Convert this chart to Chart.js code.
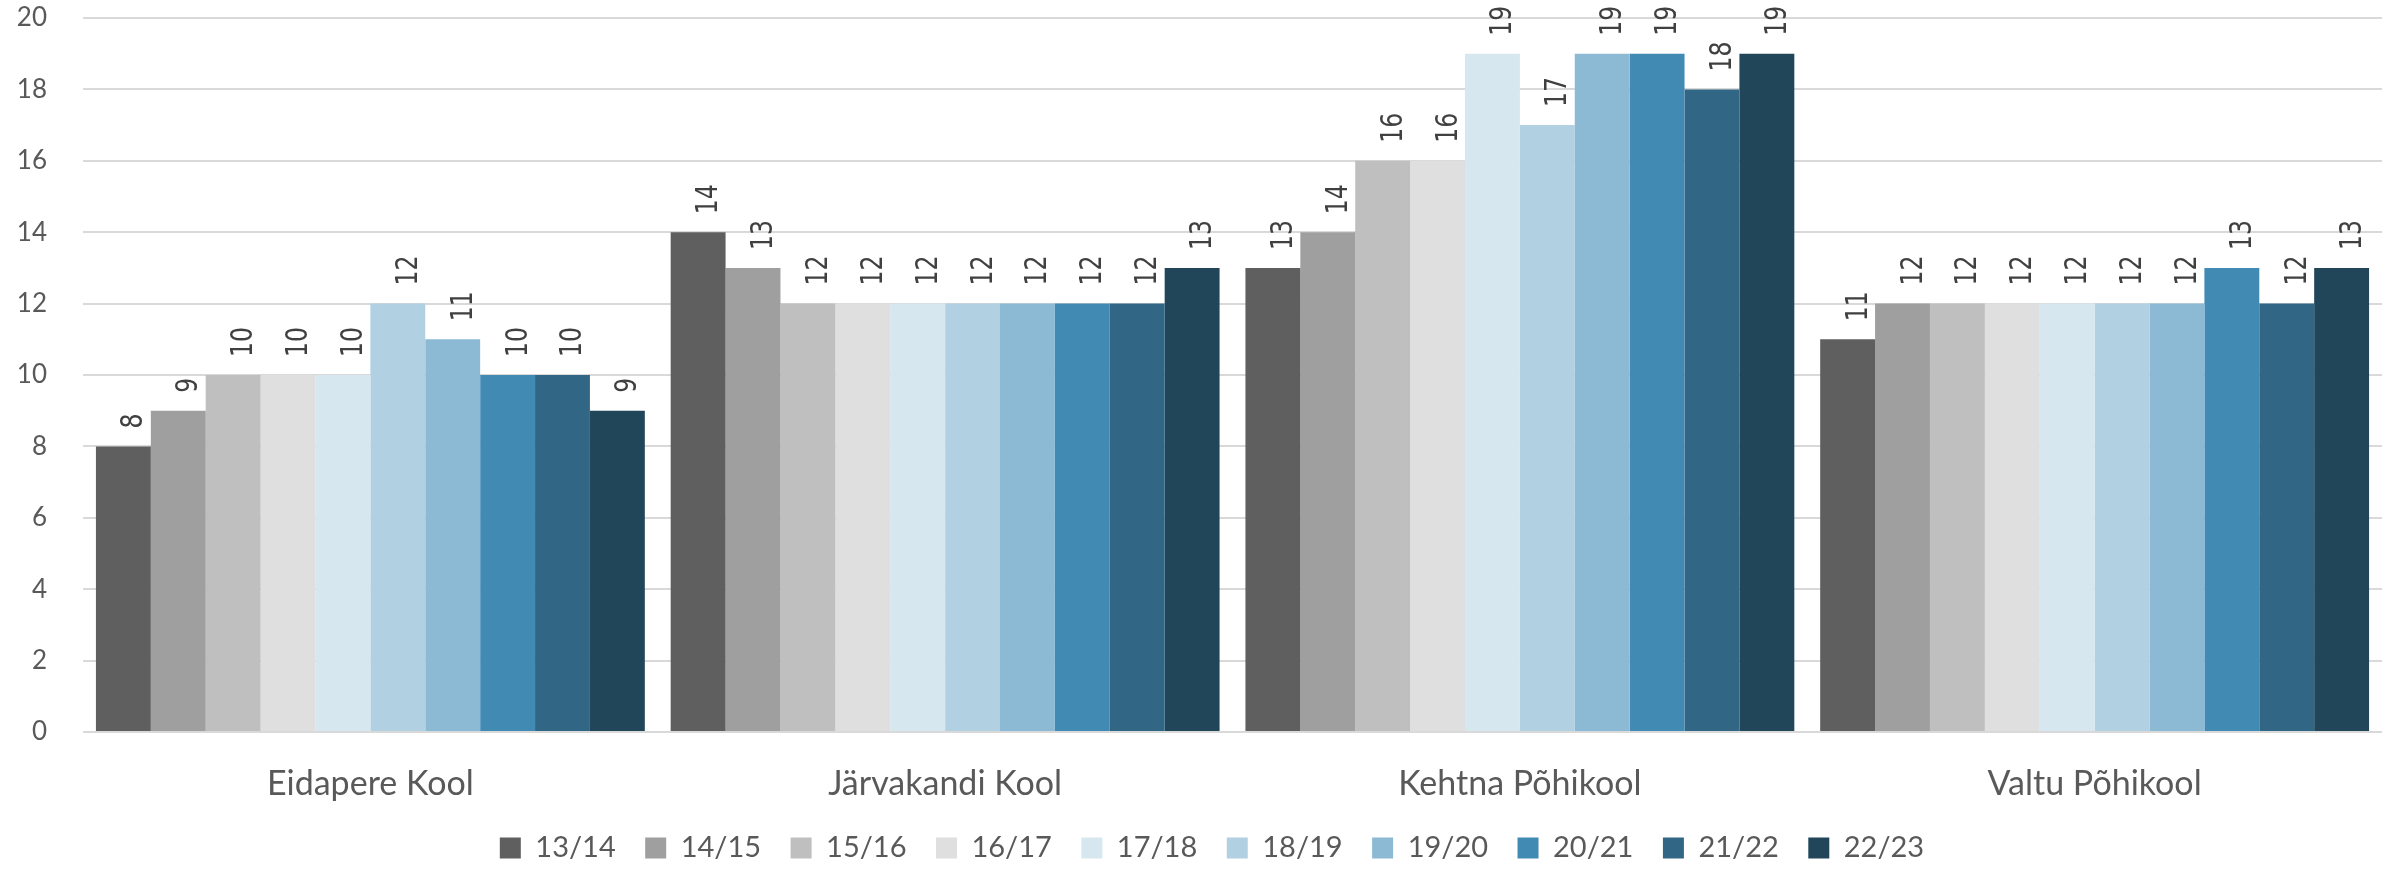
<!DOCTYPE html>
<html>
<head>
<meta charset="utf-8">
<script src="https://cdn.jsdelivr.net/npm/chart.js@4/dist/chart.umd.min.js"></script>
<style>
  html, body { margin: 0; padding: 0; background: #fff; }
  #wrap { width: 2395px; height: 870px; position: relative; }
</style>
</head>
<body>
<div id="wrap"><canvas id="chart"></canvas></div>
<script>
// schools (categories)
const schools = ['Eidapere Kool', 'Järvakandi Kool', 'Kehtna Põhikool', 'Valtu Põhikool'];

// school years (series)
const years = ['13/14', '14/15', '15/16', '16/17', '17/18', '18/19', '19/20', '20/21', '21/22', '22/23'];

// values per year, in school order
const y1314 = [8, 14, 13, 11];
const y1415 = [9, 13, 14, 12];
const y1516 = [10, 12, 16, 12];
const y1617 = [10, 12, 16, 12];
const y1718 = [10, 12, 19, 12];
const y1819 = [12, 12, 17, 12];
const y1920 = [11, 12, 19, 12];
const y2021 = [10, 12, 19, 13];
const y2122 = [10, 12, 18, 12];
const y2223 = [9, 13, 19, 13];

const seriesValues = [y1314, y1415, y1516, y1617, y1718, y1819, y1920, y2021, y2122, y2223];

const yTicks = [0, 2, 4, 6, 8, 10, 12, 14, 16, 18, 20];

const palette = [
    '#5f5f5f', '#9f9f9f', '#bfbfbf', '#dfdfdf', '#d6e7f0',
    '#b1d0e2', '#8cb9d4', '#418ab4', '#316785', '#214559'
];

const TEXT = '#595959';
const FONT = 'Lato, "Open Sans", sans-serif';

// value labels, rotated, above each bar
const barLabels = {
    id: 'barLabels',
    afterDatasetsDraw(chart) {
        const ctx = chart.ctx;
        ctx.save();
        ctx.fillStyle = '#404040';
        ctx.font = '31px "DejaVu Sans"';
        ctx.textAlign = 'left';
        ctx.textBaseline = 'alphabetic';
        chart.data.datasets.forEach((ds, i) => {
            const meta = chart.getDatasetMeta(i);
            meta.data.forEach((bar, j) => {
                ctx.save();
                ctx.translate(bar.x + 19, bar.y - 18);
                ctx.rotate(-Math.PI / 2);
                ctx.scale(0.76, 1); // narrower glyphs like the original
                ctx.fillText(String(ds.data[j]), 0, 0);
                ctx.restore();
            });
        });
        ctx.restore();
    }
};

// fixed legend height, and nudge it right a bit (original sits off-centre)
const legendBox = {
    id: 'legendBox',
    beforeInit(chart) {
        const legend = chart.legend;
        if (!legend) return;
        const fit = legend.fit;
        legend.fit = function () {
            fit.call(this);
            this.height = 66;
        };
    },
    afterLayout(chart) {
        if (!chart.legend) return;
        chart.legend.left += 21;
        chart.legend.right += 21;
    }
};

const datasets = years.map((label, i) => ({
    label: label,
    data: seriesValues[i],
    backgroundColor: palette[i],
    borderWidth: 0,
    categoryPercentage: 0.955,
    barPercentage: 1.0
}));

new Chart(document.getElementById('chart'), {
    type: 'bar',
    data: { labels: schools, datasets: datasets },
    options: {
        responsive: true,
        maintainAspectRatio: false,
        animation: false,
        layout: { padding: { top: 18, right: 13, left: 0, bottom: 0 } },
        plugins: {
            tooltip: { enabled: false },
            legend: {
                position: 'bottom',
                labels: {
                    boxWidth: 21,
                    boxHeight: 21,
                    padding: 29.5,
                    color: TEXT,
                    font: { family: FONT, size: 29 }
                }
            }
        },
        scales: {
            x: {
                grid: { display: false, drawTicks: false },
                border: { display: false },
                ticks: {
                    color: TEXT,
                    padding: 32,
                    font: { family: FONT, size: 34 }
                },
                afterFit: s => { s.height = 72; }
            },
            y: {
                min: 0,
                max: 20,
                afterBuildTicks: s => { s.ticks = yTicks.map(v => ({ value: v })); },
                grid: { color: '#d9d9d9', lineWidth: 2, drawTicks: false },
                border: { display: false },
                ticks: {
                    color: TEXT,
                    padding: 36,
                    font: { family: FONT, size: 26 }
                },
                afterFit: s => {
                    s.width = 83;
                    // tick padding would otherwise push the plot top down
                    s.paddingTop = 16;
                    s.paddingBottom = 16;
                }
            }
        }
    },
    plugins: [barLabels, legendBox]
});
</script>
</body>
</html>
